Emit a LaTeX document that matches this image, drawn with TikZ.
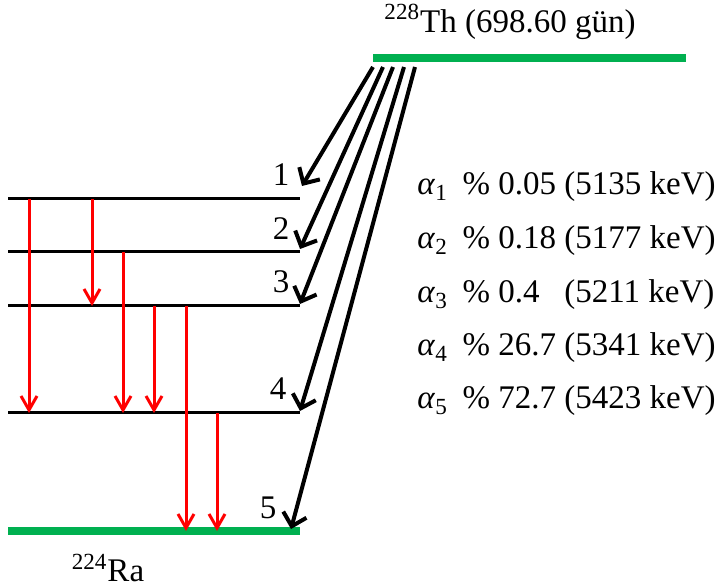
\documentclass[tikz,border=0pt]{standalone}
\usepackage{fontspec}
\setmainfont{Liberation Serif}
\usetikzlibrary{arrows.meta}
\definecolor{levelgreen}{RGB}{0,176,80}

\begin{document}
\begin{tikzpicture}[
  x=0.5pt, y=-0.5pt,
  every node/.style={font=\fontsize{16.5}{20}\selectfont, inner sep=0pt},
  ground/.style={line width=3.8pt, draw=levelgreen},
  excited/.style={line width=1.5pt, draw=black},
  alphadecay/.style={-{Straight Barb[length=6pt, width=12pt]}, line width=2pt, black},
  gammadecay/.style={-{Straight Barb[length=7pt, width=8pt]}, line width=1.5pt, red},
]
\useasboundingbox (0,0) rectangle (718,588);

% ---------------------------------------------------------------- levels --
\coordinate (thw) at (373,58);  \coordinate (the) at (686,58);
\coordinate (lev1w) at (8,199); \coordinate (lev1e) at (300,199);
\coordinate (lev2w) at (8,252); \coordinate (lev2e) at (300,252);
\coordinate (lev3w) at (8,306); \coordinate (lev3e) at (300,306);
\coordinate (lev4w) at (8,413); \coordinate (lev4e) at (300,413);
\coordinate (raw) at (8,531);   \coordinate (rae) at (300,531);

\draw[ground] (thw) -- (the);
\draw[excited] (lev1w) -- (lev1e);
\draw[excited] (lev2w) -- (lev2e);
\draw[excited] (lev3w) -- (lev3e);
\draw[excited] (lev4w) -- (lev4e);
\draw[ground] (raw) -- (rae);

% ---------------------------------------------------------------- labels --
\node (th) at (510,22) {\textsuperscript{228}Th (698.60 gün)};
\node (ra) at (108,568) {\textsuperscript{224}Ra};
\node (n1) at (281,175) {1};
\node (n2) at (281,229) {2};
\node (n3) at (281,282) {3};
\node (n4) at (278,389) {4};
\node (n5) at (268,508) {5};

\node[anchor=west] (a1) at (417,187) {\textit{α}\textsubscript{1}\hspace{0.45em}\% 0.05 (5135 keV)};
\node[anchor=west] (a2) at (417,241) {\textit{α}\textsubscript{2}\hspace{0.45em}\% 0.18 (5177 keV)};
\node[anchor=west] (a3) at (417,295) {\textit{α}\textsubscript{3}\hspace{0.45em}\% 0.4\hspace{0.75em}(5211 keV)};
\node[anchor=west] (a4) at (417,348) {\textit{α}\textsubscript{4}\hspace{0.45em}\% 26.7 (5341 keV)};
\node[anchor=west] (a5) at (417,401) {\textit{α}\textsubscript{5}\hspace{0.45em}\% 72.7 (5423 keV)};

% ----------------------------------------------------------- alpha decays --
\coordinate (s1) at (373,67); \coordinate (e1) at (302,186);
\coordinate (s2) at (383,67); \coordinate (e2) at (300,249);
\coordinate (s3) at (393,67); \coordinate (e3) at (300,304);
\coordinate (s4) at (404,67); \coordinate (e4) at (300,411);
\coordinate (s5) at (415,67); \coordinate (e5) at (291,529);

\draw[alphadecay] (s1) -- (e1);
\draw[alphadecay] (s2) -- (e2);
\draw[alphadecay] (s3) -- (e3);
\draw[alphadecay] (s4) -- (e4);
\draw[alphadecay] (s5) -- (e5);

% ----------------------------------------------------------- gamma decays --
\draw[gammadecay] (29,0 |- lev1w) -- (29,0 |- lev4w);
\draw[gammadecay] (92,0 |- lev1w) -- (92,0 |- lev3w);
\draw[gammadecay] (123,0 |- lev2w) -- (123,0 |- lev4w);
\draw[gammadecay] (154,0 |- lev3w) -- (154,0 |- lev4w);
\draw[gammadecay] (186,0 |- lev3w) -- (186,0 |- raw);
\draw[gammadecay] (217,0 |- lev4w) -- (217,0 |- raw);

\end{tikzpicture}
\end{document}
